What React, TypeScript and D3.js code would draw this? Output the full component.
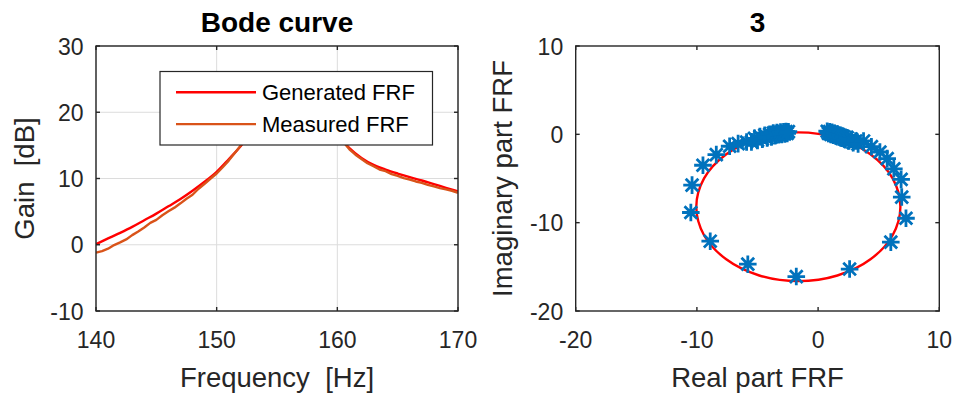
import React from "react";
import * as d3 from "d3";

// ---------- Data ----------
const genFreq = [140, 141, 142, 143, 144, 145, 146, 147, 148, 149, 150, 151, 152, 153, 154, 155, 156, 157, 158, 159, 160, 161, 162, 163, 164, 165, 166, 167, 168, 169, 170];
const genGain = [0.1, 0.95, 1.8, 2.7, 3.7, 4.7, 5.8, 6.9, 8.15, 9.5, 11.0, 12.9, 14.9, 17.3, 20.2, 23.0, 24.4, 23.6, 21.4, 18.9, 16.6, 14.6, 13.1, 12.05, 11.35, 10.75, 10.2, 9.7, 9.15, 8.6, 8.05];

const measFreq = [140, 140.5, 141, 141.5, 142, 142.5, 143, 143.5, 144, 144.5, 145, 145.5, 146, 146.5, 147, 147.5, 148, 148.5, 149, 149.5, 150, 150.5, 151, 151.5, 152, 152.5, 153, 153.5, 154, 154.5, 155, 155.5, 156, 156.5, 157, 157.5, 158, 158.5, 159, 159.5, 160, 160.5, 161, 161.5, 162, 162.5, 163, 163.5, 164, 164.5, 165, 165.5, 166, 166.5, 167, 167.5, 168, 168.5, 169, 169.5, 170];
const measGain = [-1.2, -0.95, -0.6, -0.05, 0.35, 0.8, 1.45, 2.0, 2.6, 3.3, 3.75, 4.45, 5.05, 5.6, 6.25, 6.95, 7.55, 8.45, 9.2, 10.0, 10.75, 11.7, 12.7, 13.85, 15.0, 16.2, 17.5, 19.0, 20.4, 21.8, 23.0, 23.8, 24.2, 24.0, 23.3, 22.4, 21.3, 20.1, 18.8, 17.6, 16.5, 15.5, 14.4, 13.6, 12.95, 12.3, 11.85, 11.35, 11.1, 10.65, 10.4, 10.05, 9.85, 9.55, 9.35, 9.05, 8.8, 8.55, 8.35, 8.15, 7.85];

const nyqGenRe = [6.79, 6.15, 4.32, 1.59, -1.63, -4.85, -7.58, -9.41, -10.05, -9.41, -7.58, -4.85, -1.63, 1.59, 4.32, 6.15];
const nyqGenIm = [-8.2, -4.98, -2.25, -0.42, 0.22, -0.42, -2.25, -4.98, -8.2, -11.42, -14.15, -15.98, -16.62, -15.98, -14.15, -11.42];

const nyqMeasRe = [
  0.75, 0.85, 0.95, 1.05, 1.15, 1.25, 1.35, 1.45, 1.6, 1.7, 1.85, 1.95, 2.1, 2.25, 2.4, 2.55, 2.75, 2.9, 3.1, 3.3,
  3.75, 4.4, 5.1, 5.7, 6.25, 6.85, 6.9, 7.25, 6.0, 2.6, -1.8, -5.8, -8.9, -10.5, -10.4, -9.5, -8.4, -7.3, -6.6, -5.9,
  -5.5, -5.25, -5.0, -4.8, -4.6, -4.4, -4.2, -4.0, -3.85, -3.7, -3.55, -3.4, -3.25, -3.1, -3.0, -2.85, -2.75, -2.65, -2.55, -2.45,
];
const nyqMeasIm = [
  0.35, 0.1, 0.3, 0.0, 0.22, -0.1, 0.12, -0.18, 0.02, -0.3, -0.1, -0.45, -0.25, -0.6, -0.38, -0.75, -0.55, -0.95, -0.75, -1.1,
  -0.75, -1.4, -2.0, -2.75, -3.9, -5.1, -7.1, -9.5, -12.2, -15.25, -16.1, -14.7, -12.1, -8.85, -5.75, -3.5, -2.3, -1.35, -1.05, -0.87,
  -0.85, -0.45, -0.7, -0.25, -0.55, -0.1, -0.4, 0.0, -0.3, 0.15, -0.15, 0.2, -0.05, 0.25, 0.0, 0.3, 0.05, 0.32, 0.1, 0.3,
];

const bodeXTicks = [140, 150, 160, 170];
const bodeYTicks = [-10, 0, 10, 20, 30];
const nyqXTicks = [-20, -10, 0, 10];
const nyqYTicks = [-20, -10, 0, 10];
const legendLabels = ["Generated FRF", "Measured FRF"];

// ---------- Style ----------
const FONT = "'Liberation Sans', Arial, Helvetica, sans-serif";
const AX = "#262626";
const RED = "#FF0000";
const ORANGE = "#D95319";
const BLUE = "#0072BD";
const GRID = "#DCDCDC";

const W = 957;
const H = 399;
const TOP = 46;
const BOT = 311;
const TICK = 4;

function Grid({ x, y, xTicks, yTicks }: any) {
  const [x0, x1] = x.range();
  const [y0, y1] = y.range();
  return (
    <g stroke={GRID} strokeWidth={1}>
      {xTicks.map((t: number) => (
        <line key={"gx" + t} x1={x(t)} x2={x(t)} y1={y0} y2={y1} />
      ))}
      {yTicks.map((t: number) => (
        <line key={"gy" + t} x1={x0} x2={x1} y1={y(t)} y2={y(t)} />
      ))}
    </g>
  );
}

function Frame({ x, y, xTicks, yTicks }: any) {
  const [x0, x1] = x.range();
  const [y0, y1] = y.range();
  return (
    <g>
      <rect x={x0} y={y1} width={x1 - x0} height={y0 - y1} fill="none" stroke={AX} strokeWidth={1.4} />
      <g stroke={AX} strokeWidth={1.4}>
        {xTicks.map((t: number) => (
          <g key={"tx" + t}>
            <line x1={x(t)} x2={x(t)} y1={y0} y2={y0 - TICK} />
            <line x1={x(t)} x2={x(t)} y1={y1} y2={y1 + TICK} />
          </g>
        ))}
        {yTicks.map((t: number) => (
          <g key={"ty" + t}>
            <line x1={x0} x2={x0 + TICK} y1={y(t)} y2={y(t)} />
            <line x1={x1} x2={x1 - TICK} y1={y(t)} y2={y(t)} />
          </g>
        ))}
      </g>
      <g fill={AX} fontFamily={FONT} fontSize={23}>
        {xTicks.map((t: number) => (
          <text key={"lx" + t} x={x(t)} y={347.5} textAnchor="middle">
            {String(t)}
          </text>
        ))}
        {yTicks.map((t: number) => (
          <text key={"ly" + t} x={x0 - 12.5} y={y(t) + 8.5} textAnchor="end">
            {String(t)}
          </text>
        ))}
      </g>
    </g>
  );
}

function starPath(cx: number, cy: number, s: number) {
  const d = s * 0.72;
  return `M${cx - s},${cy}L${cx + s},${cy}M${cx},${cy - s}L${cx},${cy + s}M${cx - d},${cy - d}L${cx + d},${cy + d}M${cx - d},${cy + d}L${cx + d},${cy - d}`;
}

export default function App() {
  // Bode
  const bx = d3.scaleLinear().domain([140, 170]).range([96, 458]);
  const by = d3.scaleLinear().domain([-10, 30]).range([BOT, TOP]);
  const genLine = d3
    .line<number>()
    .x((_, i) => bx(genFreq[i]))
    .y((d) => by(d))
    .curve(d3.curveMonotoneX);
  const measLine = d3
    .line<number>()
    .x((_, i) => bx(measFreq[i]))
    .y((d) => by(d));

  // Nyquist
  const nx = d3.scaleLinear().domain([-20, 10]).range([575.7, 939.3]);
  const ny = d3.scaleLinear().domain([-20, 10]).range([BOT, TOP]);
  const circ = d3
    .line<number>()
    .x((d) => nx(d))
    .y((_, i) => ny(nyqGenIm[i]))
    .curve(d3.curveCatmullRomClosed.alpha(0.5));

  const lgX0 = 160;
  const lgY0 = 71.5;
  const lgW = 272.5;
  const lgH = 73.5;

  return (
    <svg
      width={W}
      height={H}
      viewBox={`0 0 ${W} ${H}`}
      style={{ position: "absolute", left: 0, top: 0, background: "#fff" }}
    >
      <defs>
        <clipPath id="clipBode">
          <rect x={96} y={TOP} width={362} height={BOT - TOP} />
        </clipPath>
        <clipPath id="clipNyq">
          <rect x={575.7} y={TOP} width={363.6} height={BOT - TOP} />
        </clipPath>
      </defs>
      <rect x={0} y={0} width={W} height={H} fill="#fff" />

      {/* ---------- Bode ---------- */}
      <Grid x={bx} y={by} xTicks={bodeXTicks} yTicks={bodeYTicks} />
      <g clipPath="url(#clipBode)" fill="none" strokeLinejoin="round">
        <path d={genLine(genGain) || ""} stroke={RED} strokeWidth={2.4} />
        <path d={measLine(measGain) || ""} stroke={ORANGE} strokeWidth={2.4} />
      </g>
      <Frame x={bx} y={by} xTicks={bodeXTicks} yTicks={bodeYTicks} />
      {/* legend */}
      <g>
        <rect x={lgX0} y={lgY0} width={lgW} height={lgH} fill="#fff" stroke={AX} strokeWidth={1.2} />
        {legendLabels.map((lab, i) => {
          const yy = 92.3 + i * 31.8;
          return (
            <g key={lab}>
              <line x1={176} x2={256} y1={yy} y2={yy} stroke={i === 0 ? RED : ORANGE} strokeWidth={2.4} />
              <text x={262} y={yy + 8} fontFamily={FONT} fontSize={22} fill="#000">
                {lab}
              </text>
            </g>
          );
        })}
      </g>
      <text x={277} y={32} textAnchor="middle" fontFamily={FONT} fontSize={28} fontWeight="bold" fill="#000">
        Bode curve
      </text>
      <text x={277} y={386.5} textAnchor="middle" fontFamily={FONT} fontSize={27.5} fill={AX} xmlSpace="preserve">
        {"Frequency  [Hz]"}
      </text>
      <text
        transform={`translate(34,${(TOP + BOT) / 2}) rotate(-90)`}
        textAnchor="middle"
        fontFamily={FONT}
        fontSize={27.5}
        fill={AX}
        xmlSpace="preserve"
      >
        {"Gain  [dB]"}
      </text>

      {/* ---------- Nyquist ---------- */}
      <g clipPath="url(#clipNyq)">
        <path d={circ(nyqGenRe) || ""} fill="none" stroke={RED} strokeWidth={2.4} />
        <g stroke={BLUE} strokeWidth={2.8} fill="none">
          {nyqMeasRe.map((re, i) => (
            <path key={"st" + i} d={starPath(nx(re), ny(nyqMeasIm[i]), 8.8)} />
          ))}
        </g>
      </g>
      <Frame x={nx} y={ny} xTicks={nyqXTicks} yTicks={nyqYTicks} />
      <text x={757.5} y={32} textAnchor="middle" fontFamily={FONT} fontSize={28} fontWeight="bold" fill="#000">
        3
      </text>
      <text x={757.5} y={386.5} textAnchor="middle" fontFamily={FONT} fontSize={27.5} fill={AX}>
        Real part FRF
      </text>
      <text
        transform={`translate(512,${(TOP + BOT) / 2}) rotate(-90)`}
        textAnchor="middle"
        fontFamily={FONT}
        fontSize={27.5}
        fill={AX}
      >
        Imaginary part FRF
      </text>
    </svg>
  );
}
